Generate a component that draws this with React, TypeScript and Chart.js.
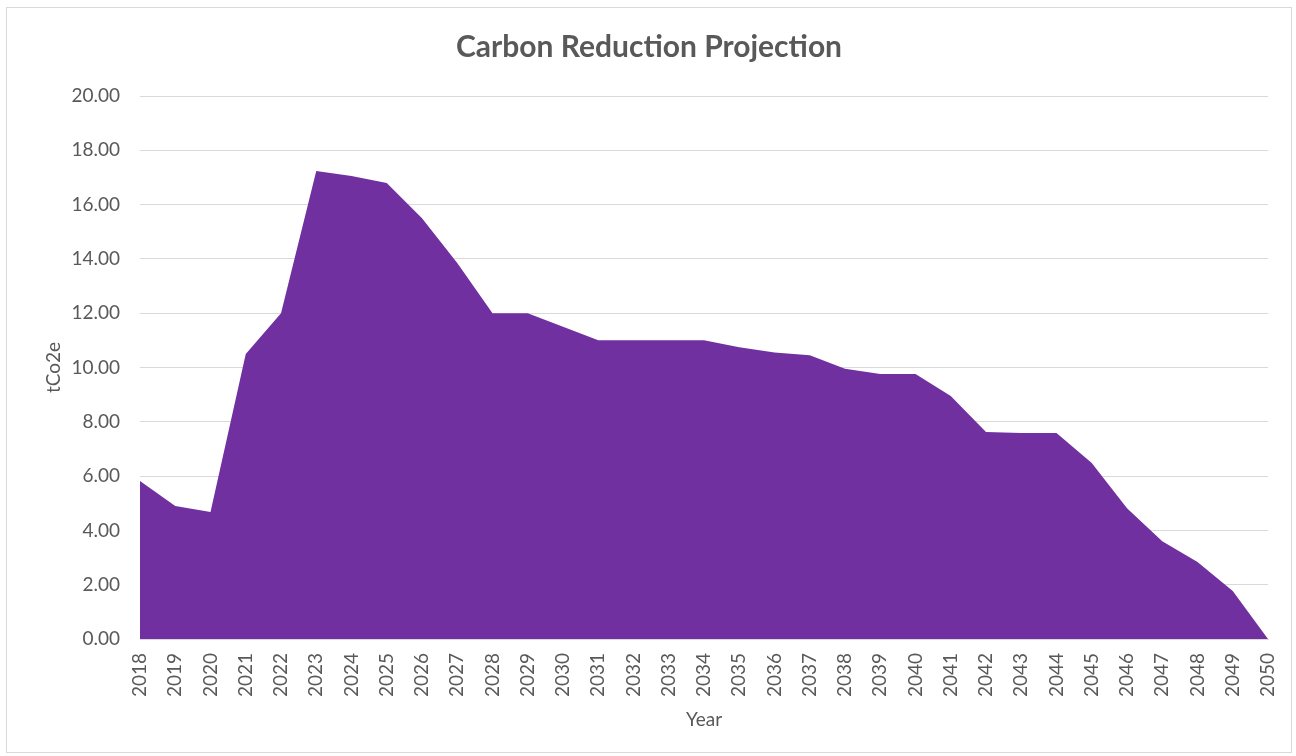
import React, { useEffect, useRef } from "react";
import { Chart, registerables } from "chart.js";

Chart.register(...registerables);

const years: string[] = [
  "2018", "2019", "2020", "2021", "2022", "2023", "2024", "2025", "2026", "2027", "2028",
  "2029", "2030", "2031", "2032", "2033", "2034", "2035", "2036", "2037", "2038", "2039",
  "2040", "2041", "2042", "2043", "2044", "2045", "2046", "2047", "2048", "2049", "2050",
];

const reduction: number[] = [
  5.82, 4.9, 4.68, 10.5, 12.0, 17.24, 17.05, 16.8, 15.5, 13.85, 12.0,
  12.0, 11.5, 11.0, 11.0, 11.0, 11.0, 10.75, 10.55, 10.45, 9.95, 9.76,
  9.76, 8.95, 7.62, 7.59, 7.59, 6.48, 4.82, 3.6, 2.84, 1.77, 0,
];

const yTicks: number[] = [0, 2, 4, 6, 8, 10, 12, 14, 16, 18, 20];

const FONT = "Lato, 'Open Sans', sans-serif";
const TEXT = "#595959";
const GRID = "#d9d9d9";

export default function App() {
  const ref = useRef<HTMLCanvasElement | null>(null);

  useEffect(() => {
    if (!ref.current) return;
    const chart = new Chart(ref.current, {
      type: "line",
      data: {
        labels: years,
        datasets: [
          {
            label: "tCo2e",
            data: reduction,
            fill: "origin",
            backgroundColor: "#7030A0",
            borderColor: "#7030A0",
            borderWidth: 0,
            pointRadius: 0,
            tension: 0,
          },
        ],
      },
      options: {
        animation: false,
        responsive: true,
        maintainAspectRatio: false,
        layout: { padding: { left: 0, right: 0, top: 0, bottom: 0 } },
        plugins: {
          legend: { display: false },
          tooltip: { enabled: false },
          title: {
            display: true,
            text: "Carbon Reduction Projection",
            color: TEXT,
            font: { family: FONT, size: 30, weight: "bold" },
            padding: { top: 21, bottom: 31 },
          },
        },
        scales: {
          x: {
            offset: false,
            grid: { display: false },
            border: { display: true, color: GRID, width: 1 },
            ticks: {
              color: TEXT,
              font: { family: FONT, size: 19 },
              minRotation: 90,
              maxRotation: 90,
              autoSkip: false,
              padding: 6,
            },
            title: {
              display: true,
              text: "Year",
              color: TEXT,
              font: { family: FONT, size: 19 },
              padding: { top: 0, bottom: 21 },
            },
            afterFit: (scale: any) => {
              scale.height = 113;
              scale.paddingLeft = 0;
              scale.paddingRight = 23;
            },
          },
          y: {
            min: 0,
            max: 20,
            afterBuildTicks: (scale: any) => {
              scale.ticks = yTicks.map((v) => ({ value: v }));
            },
            grid: { color: GRID, lineWidth: 1, drawTicks: false },
            border: { display: false },
            ticks: {
              color: TEXT,
              font: { family: FONT, size: 19 },
              padding: 20,
              callback: (v: any) => Number(v).toFixed(2),
            },
            title: {
              display: true,
              text: "tCo2e",
              color: TEXT,
              font: { family: FONT, size: 19 },
              padding: { top: 35, bottom: 0 },
            },
            afterFit: (scale: any) => {
              scale.width = 133;
            },
          },
        },
      },
    });
    return () => chart.destroy();
  }, []);

  return (
    <div
      style={{
        position: "absolute",
        left: 6,
        top: 7,
        width: 1286,
        height: 746,
        border: "1px solid #d9d9d9",
        boxSizing: "border-box",
        background: "#fff",
      }}
    >
      <canvas ref={ref} />
    </div>
  );
}
